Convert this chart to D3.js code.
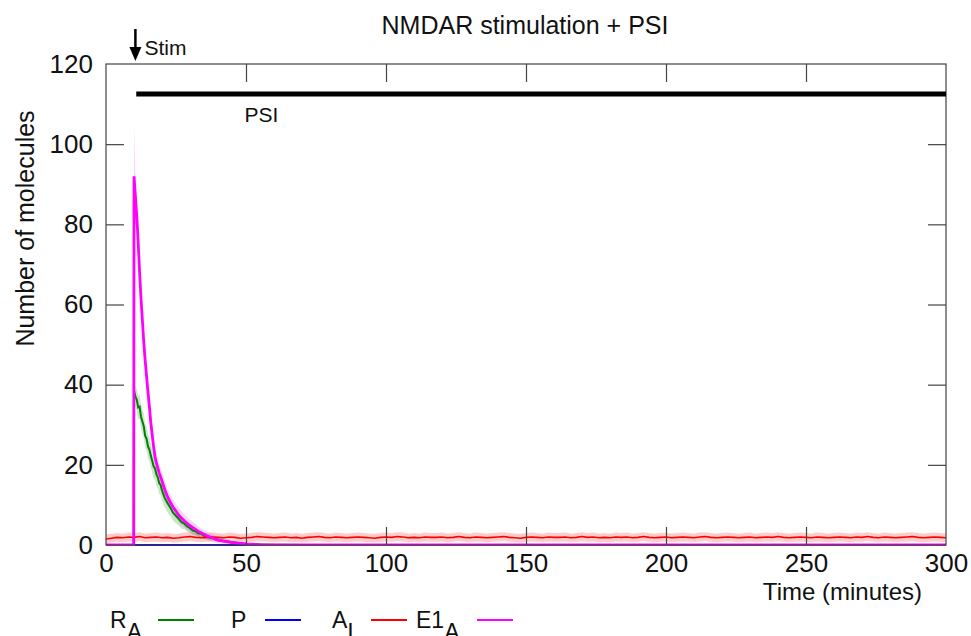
<!DOCTYPE html>
<html>
<head>
<meta charset="utf-8">
<script src="https://cdn.jsdelivr.net/npm/d3@7"></script>
<style>
  body { margin: 0; background: #fff; }
  svg text { font-family: "Liberation Sans", Arial, sans-serif; fill: #111; }
</style>
</head>
<body>
<div id="chart"></div>
<script>
// E1_A (magenta)
const e1Time = [0, 9.9, 10, 10.5, 11, 11.5, 12, 12.5, 13, 13.5, 14, 14.5, 15, 15.5, 16, 16.5, 17, 17.5, 18, 19, 20, 21, 22, 23, 24, 26, 28, 30, 33, 36, 40, 45, 50, 55, 60, 300];
const e1Val  = [0, 0, 92, 87, 82, 75.5, 68, 61.5, 56, 50.5, 46, 42, 38, 34.5, 30.5, 27.5, 24.5, 22, 20.5, 18, 16, 13.8, 12, 10.6, 9.4, 7.4, 6, 4.8, 3.4, 2.3, 1.2, 0.6, 0.25, 0.1, 0.03, 0];
const e1Sd   = [0, 0, 13, 6, 4, 3.5, 3, 3, 3, 2.8, 2.8, 2.6, 2.6, 2.5, 2.5, 2.5, 2.5, 2.4, 2.4, 2.3, 2.2, 2.1, 2, 2, 1.9, 1.8, 1.7, 1.6, 1.3, 1.1, 0.8, 0.5, 0.3, 0.15, 0, 0];

// R_A (green)
const raTime = [0, 9.9, 10, 10.5, 11, 11.5, 12, 12.5, 13, 13.5, 14, 14.5, 15, 15.5, 16, 16.5, 17, 17.5, 18, 18.5, 19, 19.5, 20, 21, 22, 23, 24, 25, 26, 27, 28, 29, 30, 31, 32, 33, 34, 35, 36, 37, 38, 39, 40, 42, 44, 46, 48, 50, 55, 60, 70, 300];
const raVal  = [0, 0, 38.5, 37, 36.2, 34.3, 34.5, 32, 30.8, 29.6, 27.2, 26.5, 24.6, 23.8, 22.3, 21.0, 19.6, 19.1, 17.6, 16.9, 15.4, 15.0, 13.6, 11.7, 10.4, 9.3, 8.0, 7.3, 6.5, 5.7, 5.3, 4.6, 4.2, 3.6, 3.4, 2.9, 2.8, 2.3, 2.2, 1.8, 1.8, 1.5, 1.3, 1.0, 0.8, 0.6, 0.4, 0.3, 0.15, 0.05, 0, 0];
const raSd   = [0, 0, 2.5, 2.6, 2.8, 2.9, 3, 3, 3, 3, 3, 3, 3, 3, 3, 3, 3, 2.9, 2.8, 2.8, 2.7, 2.6, 2.5, 2.4, 2.3, 2.1, 2, 1.9, 1.7, 1.6, 1.4, 1.3, 1.2, 1.1, 1, 0.9, 0.8, 0.8, 0.7, 0.6, 0.6, 0.5, 0.5, 0.4, 0.3, 0.25, 0.2, 0.2, 0.1, 0.05, 0, 0];

// P (blue)
const pTime = [0, 300];
const pVal  = [0, 0];

// A_I (red), one sample every 2 minutes from 0 to 300
const aiVal = [
  1.5, 1.7, 1.9, 1.8, 2.0, 1.9, 2.1, 1.8, 1.9, 2.0, 1.8, 1.9, 1.7, 1.8, 2.0, 2.1, 1.9, 1.8, 1.9, 2.0,
  1.9, 1.8, 2.0, 1.9, 1.7, 1.8, 1.9, 2.1, 2.0, 1.9, 1.8, 1.9, 2.0, 1.8, 1.9, 1.7, 1.9, 2.0, 2.1, 1.9,
  1.8, 2.0, 1.9, 1.8, 1.9, 2.0, 1.9, 1.8, 1.7, 1.9, 2.0, 1.9, 2.1, 2.0, 1.8, 1.9, 1.8, 2.0, 1.9, 1.9,
  2.0, 1.8, 1.9, 2.1, 1.9, 1.8, 2.0, 1.9, 1.8, 1.9, 2.0, 2.1, 1.9, 1.8, 1.7, 1.9, 2.0, 1.9, 1.8, 2.0,
  1.9, 1.9, 2.0, 1.8, 1.9, 2.1, 1.9, 2.0, 1.8, 1.9, 1.8, 2.0, 1.9, 2.0, 1.8, 1.9, 2.1, 1.9, 1.8, 1.9,
  2.0, 1.8, 1.9, 2.0, 1.9, 1.8, 2.0, 2.1, 1.9, 1.8, 1.9, 2.0, 1.9, 1.8, 1.9, 2.0, 1.8, 1.9, 2.0, 1.9,
  2.1, 1.9, 1.8, 1.9, 2.0, 1.9, 1.8, 2.0, 1.9, 1.8, 1.9, 2.0, 1.9, 1.8, 2.0, 1.9, 2.1, 1.9, 1.8, 2.0,
  1.9, 1.8, 1.9, 2.0, 2.1, 1.9, 1.8, 1.9, 2.0, 1.9, 1.8
];
const aiSd = 1.1;

// PSI bar and stimulus
const psiStart = 10.8, psiEnd = 300, psiLevel = 112.5;
const stimTime = 10.5;

const xTicks = [0, 50, 100, 150, 200, 250, 300];
const yTicks = [0, 20, 40, 60, 80, 100, 120];

const legendNames = [["R", "A"], ["P", ""], ["A", "I"], ["E1", "A"]];
const legendColors = ["#008000", "#0000ff", "#ff0000", "#ff00ff"];

const W = 971, H = 636;
const m = { left: 106, top: 64, right: 25, bottom: 91 };
const iw = W - m.left - m.right, ih = H - m.top - m.bottom;

const svg = d3.select("#chart").append("svg").attr("width", W).attr("height", H);
const g = svg.append("g").attr("transform", "translate(" + m.left + "," + m.top + ")");

const x = d3.scaleLinear().domain([0, 300]).range([0, iw]);
const y = d3.scaleLinear().domain([0, 120]).range([ih, 0]);

g.append("defs").append("clipPath").attr("id", "clip")
  .append("rect").attr("width", iw).attr("height", ih + 1);

const plot = g.append("g").attr("clip-path", "url(#clip)");

const zip = (t, v, s) => t.map((d, i) => ({ t: d, v: v[i], s: s ? s[i] : 0 }));
const e1 = zip(e1Time, e1Val, e1Sd);
const ra = zip(raTime, raVal, raSd);
const pp = zip(pTime, pVal);
const ai = aiVal.map((v, i) => ({ t: i * 300 / (aiVal.length - 1), v: v, s: aiSd }));

const area = d3.area()
  .x((d) => x(d.t))
  .y0((d) => y(Math.max(0, d.v - d.s)))
  .y1((d) => y(d.v + d.s));
const line = d3.line().x((d) => x(d.t)).y((d) => y(d.v));

plot.append("path").datum(ai).attr("d", area).attr("fill", "rgba(255,0,0,0.2)");
plot.append("path").datum(ra).attr("d", area).attr("fill", "rgba(0,128,0,0.2)");
plot.append("path").datum(e1).attr("d", area).attr("fill", "rgba(200,0,200,0.15)");

plot.append("path").datum(ra).attr("d", line).attr("fill", "none").attr("stroke", "#008000").attr("stroke-width", 2);
plot.append("path").datum(pp).attr("d", line).attr("fill", "none").attr("stroke", "#0000ff").attr("stroke-width", 2);
plot.append("path").datum(ai).attr("d", line).attr("fill", "none").attr("stroke", "#ff0000").attr("stroke-width", 1.6);
plot.append("path").datum(e1).attr("d", line).attr("fill", "none").attr("stroke", "#ff00ff").attr("stroke-width", 2.8);

// frame and mirrored inward ticks
const frame = "#444";
g.append("rect").attr("width", iw).attr("height", ih)
  .attr("fill", "none").attr("stroke", frame).attr("stroke-width", 1.2);

const tickLen = 18;
const xb = g.append("g").attr("transform", "translate(0," + ih + ")")
  .call(d3.axisBottom(x).tickValues(xTicks).tickSize(-tickLen).tickPadding(9));
const xt = g.append("g").call(d3.axisTop(x).tickValues(xTicks).tickSize(-tickLen).tickFormat(""));
const yl = g.append("g").call(d3.axisLeft(y).tickValues(yTicks).tickSize(-tickLen).tickPadding(13));
const yr = g.append("g").attr("transform", "translate(" + iw + ",0)")
  .call(d3.axisRight(y).tickValues(yTicks).tickSize(-tickLen).tickFormat(""));
[xb, xt, yl, yr].forEach((a) => {
  a.select(".domain").remove();
  a.selectAll(".tick line").attr("stroke", frame).attr("stroke-width", 1.2);
  a.selectAll("text").attr("font-size", 26).attr("fill", "#111")
    .style("font-family", '"Liberation Sans", Arial, sans-serif');
});
xb.selectAll(".tick").filter((d) => d === 0 || d === 300).select("line").remove();
xt.selectAll(".tick").filter((d) => d === 0 || d === 300).remove();
yl.selectAll(".tick").filter((d) => d === 0 || d === 120).select("line").remove();
yr.selectAll(".tick").filter((d) => d === 0 || d === 120).remove();

// PSI bar
g.append("line")
  .attr("x1", x(psiStart)).attr("x2", x(psiEnd))
  .attr("y1", y(psiLevel)).attr("y2", y(psiLevel))
  .attr("stroke", "#000").attr("stroke-width", 5);
g.append("text").attr("x", x(55.5)).attr("y", y(psiLevel) + 28)
  .attr("text-anchor", "middle").attr("font-size", 21).text("PSI");

// stimulus arrow
const sx = m.left + x(stimTime);
svg.append("line").attr("x1", sx).attr("x2", sx).attr("y1", 29).attr("y2", 50)
  .attr("stroke", "#000").attr("stroke-width", 2.5);
svg.append("path").attr("d", `M${sx - 6},47 L${sx + 6},47 L${sx},61 Z`).attr("fill", "#000");
svg.append("text").attr("x", sx + 9).attr("y", 55).attr("font-size", 21).text("Stim");

// titles
svg.append("text").attr("x", 525).attr("y", 34).attr("text-anchor", "middle")
  .attr("font-size", 25).text("NMDAR stimulation + PSI");
svg.append("text").attr("transform", "translate(34," + (m.top + ih / 2 - 76) + ") rotate(-90)")
  .attr("text-anchor", "middle").attr("font-size", 25).text("Number of molecules");
svg.append("text").attr("x", 922).attr("y", 600).attr("text-anchor", "end")
  .attr("font-size", 24).text("Time (minutes)");

// legend
const legTextX = [110, 231, 332, 416];
const legLineX = [158, 265, 371, 477];
legendNames.forEach((n, i) => {
  const t = svg.append("text").attr("x", legTextX[i]).attr("y", 628).attr("font-size", 23);
  t.append("tspan").text(n[0]);
  if (n[1]) t.append("tspan").attr("dy", 12).text(n[1]);
  svg.append("line").attr("x1", legLineX[i]).attr("x2", legLineX[i] + 36)
    .attr("y1", 620).attr("y2", 620).attr("stroke", legendColors[i]).attr("stroke-width", 2);
});
</script>
</body>
</html>
